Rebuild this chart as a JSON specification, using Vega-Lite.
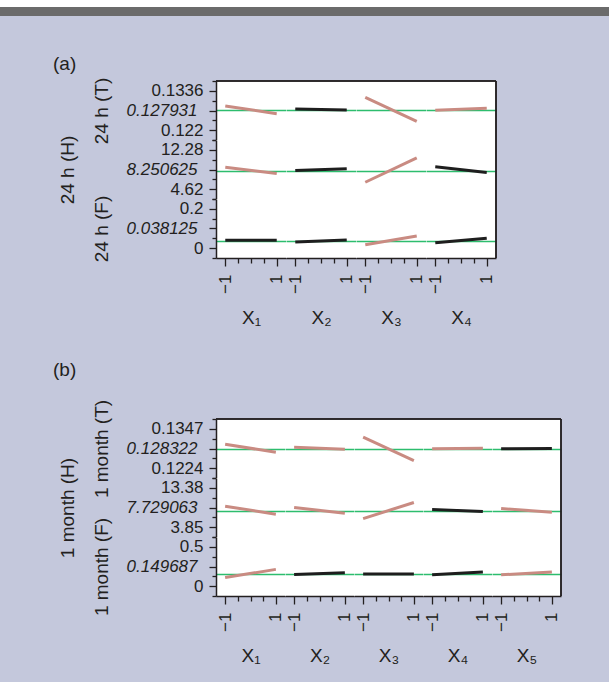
{
  "$schema": "https://vega.github.io/schema/vega-lite/v6.json",
  "background": "#c4c8dc",
  "padding": {"left": 0, "top": 0, "right": 0, "bottom": 16},
  "spacing": 33,
  "resolve": {"scale": {"x": "independent", "y": "independent"}},
  "datasets": {
    "a": [
      {"r":"T","f":"X₁","x":-1,"v":0.12911,"s":"y"},{"r":"T","f":"X₁","x":1,"v":0.12687,"s":"y"},
      {"r":"T","f":"X₂","x":-1,"v":0.12823,"s":"n"},{"r":"T","f":"X₂","x":1,"v":0.12793,"s":"n"},
      {"r":"T","f":"X₃","x":-1,"v":0.13168,"s":"y"},{"r":"T","f":"X₃","x":1,"v":0.1246,"s":"y"},
      {"r":"T","f":"X₄","x":-1,"v":0.12784,"s":"y"},{"r":"T","f":"X₄","x":1,"v":0.12843,"s":"y"},
      {"r":"H","f":"X₁","x":-1,"v":8.89,"s":"y"},{"r":"H","f":"X₁","x":1,"v":7.67,"s":"y"},
      {"r":"H","f":"X₂","x":-1,"v":8.25,"s":"n"},{"r":"H","f":"X₂","x":1,"v":8.58,"s":"n"},
      {"r":"H","f":"X₃","x":-1,"v":5.97,"s":"y"},{"r":"H","f":"X₃","x":1,"v":10.72,"s":"y"},
      {"r":"H","f":"X₄","x":-1,"v":8.97,"s":"n"},{"r":"H","f":"X₄","x":1,"v":7.86,"s":"n"},
      {"r":"F","f":"X₁","x":-1,"v":0.04,"s":"n"},{"r":"F","f":"X₁","x":1,"v":0.04,"s":"n"},
      {"r":"F","f":"X₂","x":-1,"v":0.0315,"s":"n"},{"r":"F","f":"X₂","x":1,"v":0.0417,"s":"n"},
      {"r":"F","f":"X₃","x":-1,"v":0.0178,"s":"y"},{"r":"F","f":"X₃","x":1,"v":0.062,"s":"y"},
      {"r":"F","f":"X₄","x":-1,"v":0.028,"s":"n"},{"r":"F","f":"X₄","x":1,"v":0.0503,"s":"n"}
    ],
    "b": [
      {"r":"T","f":"X₁","x":-1,"v":0.12986,"s":"y"},{"r":"T","f":"X₁","x":1,"v":0.12738,"s":"y"},
      {"r":"T","f":"X₂","x":-1,"v":0.12895,"s":"y"},{"r":"T","f":"X₂","x":1,"v":0.12832,"s":"y"},
      {"r":"T","f":"X₃","x":-1,"v":0.13209,"s":"y"},{"r":"T","f":"X₃","x":1,"v":0.12478,"s":"y"},
      {"r":"T","f":"X₄","x":-1,"v":0.12845,"s":"y"},{"r":"T","f":"X₄","x":1,"v":0.12864,"s":"y"},
      {"r":"T","f":"X₅","x":-1,"v":0.12845,"s":"n"},{"r":"T","f":"X₅","x":1,"v":0.12854,"s":"n"},
      {"r":"H","f":"X₁","x":-1,"v":8.92,"s":"y"},{"r":"H","f":"X₁","x":1,"v":7.0,"s":"y"},
      {"r":"H","f":"X₂","x":-1,"v":8.6,"s":"y"},{"r":"H","f":"X₂","x":1,"v":7.24,"s":"y"},
      {"r":"H","f":"X₃","x":-1,"v":5.93,"s":"y"},{"r":"H","f":"X₃","x":1,"v":9.82,"s":"y"},
      {"r":"H","f":"X₄","x":-1,"v":8.12,"s":"n"},{"r":"H","f":"X₄","x":1,"v":7.63,"s":"n"},
      {"r":"H","f":"X₅","x":-1,"v":8.36,"s":"y"},{"r":"H","f":"X₅","x":1,"v":7.49,"s":"y"},
      {"r":"F","f":"X₁","x":-1,"v":0.1089,"s":"y"},{"r":"F","f":"X₁","x":1,"v":0.2135,"s":"y"},
      {"r":"F","f":"X₂","x":-1,"v":0.1497,"s":"n"},{"r":"F","f":"X₂","x":1,"v":0.1701,"s":"n"},
      {"r":"F","f":"X₃","x":-1,"v":0.1535,"s":"n"},{"r":"F","f":"X₃","x":1,"v":0.1535,"s":"n"},
      {"r":"F","f":"X₄","x":-1,"v":0.1446,"s":"n"},{"r":"F","f":"X₄","x":1,"v":0.179,"s":"n"},
      {"r":"F","f":"X₅","x":-1,"v":0.1446,"s":"y"},{"r":"F","f":"X₅","x":1,"v":0.179,"s":"y"}
    ]
  },
  "vconcat": [
    {
      "width": 609, "height": 22,
      "view": {"fill": null},
      "data": {"values": [{"k": 1}]},
      "layer": [
        {"mark": {"type": "rect", "color": "#ffffff"}, "encoding": {"y": {"datum": 0, "type": "quantitative", "scale": {"domain": [0, 22], "reverse": true}, "axis": null}, "y2": {"datum": 7}}},
        {"mark": {"type": "rect", "color": "#6b6b6b"}, "encoding": {"y": {"datum": 7, "type": "quantitative"}, "y2": {"datum": 16}}}
      ]
    },
    {
      "title": {"text": "(a)", "anchor": "start", "dx": 53, "offset": 3},
      "spacing": 0,
      "resolve": {"scale": {"x": "independent", "y": "independent"}},
      "hconcat": [
        {"width": 58, "height": 10, "view": {"fill": null}, "data": {"values": [{"k": 1}]}, "mark": {"type": "point", "opacity": 0}},
        {
          "data": {"name": "a"},
          "columns": 4, "spacing": 0, "bounds": "flush",
          "resolve": {"scale": {"x": "independent", "y": "independent"}},
          "concat": [
            {"transform": [{"filter": "datum.r=='T' && datum.f=='X₁'"}], "width": 70, "height": 59, "layer": [
              {"mark": {"type": "line", "strokeWidth": 3}, "encoding": {
                "x": {"field": "x", "type": "quantitative", "scale": {"domain": [-1.36, 1.36], "nice": false}, "axis": null},
                "y": {"field": "v", "type": "quantitative", "scale": {"domain": [0.1191, 0.1365], "nice": false, "zero": false},
                  "axis": {"values": [0.1191, 0.122, 0.1249, 0.1278, 0.1307, 0.1336, 0.1365, 0.127931],
                    "labelExpr": "abs(datum.value-0.122)<1e-7 ? '0.122' : abs(datum.value-0.1278)<1e-7 ? '0.127931' : abs(datum.value-0.1336)<1e-7 ? '0.1336' : ''",
                    "labelFontSize": {"condition": {"test": "abs(datum.value-0.122)<1e-7 || abs(datum.value-0.1278)<1e-7 || abs(datum.value-0.1336)<1e-7", "value": 17}, "value": 0},
                    "tickSize": {"condition": {"test": "abs(datum.value-0.122)<1e-7 || abs(datum.value-0.1278)<1e-7 || abs(datum.value-0.1336)<1e-7", "value": 7}, "value": 4},
                    "tickOpacity": {"condition": {"test": "abs(datum.value-0.127931)<1e-7", "value": 0}, "value": 1},
                    "gridOpacity": {"condition": {"test": "abs(datum.value-0.127931)<1e-7", "value": 1}, "value": 0},
                    "labelFontStyle": {"condition": {"test": "abs(datum.value-0.1278)<1e-7", "value": "italic"}, "value": "normal"},
                    "labelPadding": {"condition": {"test": "abs(datum.value-0.1278)<1e-7", "value": 12}, "value": 6},
                    "grid": true, "title": "24 h (T)", "titlePadding": 15}},
                "color": {"field": "s", "type": "nominal", "scale": {"domain": ["y", "n"], "range": ["#c98b82", "#1e1e1e"]}, "legend": null}}},
              {"mark": {"type": "rule", "color": "#231f20", "strokeWidth": 1.5}, "encoding": {"y": {"value": 0}}}
            ]},
            {"transform": [{"filter": "datum.r=='T' && datum.f=='X₂'"}], "width": 70, "height": 59, "layer": [
              {"mark": {"type": "line", "strokeWidth": 3}, "encoding": {
                "x": {"field": "x", "type": "quantitative", "scale": {"domain": [-1.36, 1.36], "nice": false}, "axis": null},
                "y": {"field": "v", "type": "quantitative", "scale": {"domain": [0.1191, 0.1365], "nice": false, "zero": false},
                  "axis": {"values": [0.127931], "grid": true, "domain": false, "ticks": false, "labels": false, "title": null}},
                "color": {"field": "s", "type": "nominal", "scale": {"domain": ["y", "n"], "range": ["#c98b82", "#1e1e1e"]}, "legend": null}}},
              {"mark": {"type": "rule", "color": "#231f20", "strokeWidth": 1.5}, "encoding": {"y": {"value": 0}}}
            ]},
            {"transform": [{"filter": "datum.r=='T' && datum.f=='X₃'"}], "width": 70, "height": 59, "layer": [
              {"mark": {"type": "line", "strokeWidth": 3}, "encoding": {
                "x": {"field": "x", "type": "quantitative", "scale": {"domain": [-1.36, 1.36], "nice": false}, "axis": null},
                "y": {"field": "v", "type": "quantitative", "scale": {"domain": [0.1191, 0.1365], "nice": false, "zero": false},
                  "axis": {"values": [0.127931], "grid": true, "domain": false, "ticks": false, "labels": false, "title": null}},
                "color": {"field": "s", "type": "nominal", "scale": {"domain": ["y", "n"], "range": ["#c98b82", "#1e1e1e"]}, "legend": null}}},
              {"mark": {"type": "rule", "color": "#231f20", "strokeWidth": 1.5}, "encoding": {"y": {"value": 0}}}
            ]},
            {"transform": [{"filter": "datum.r=='T' && datum.f=='X₄'"}], "width": 70, "height": 59, "layer": [
              {"mark": {"type": "line", "strokeWidth": 3}, "encoding": {
                "x": {"field": "x", "type": "quantitative", "scale": {"domain": [-1.36, 1.36], "nice": false}, "axis": null},
                "y": {"field": "v", "type": "quantitative", "scale": {"domain": [0.1191, 0.1365], "nice": false, "zero": false},
                  "axis": {"values": [0.127931], "grid": true, "domain": false, "ticks": false, "labels": false, "title": null}},
                "color": {"field": "s", "type": "nominal", "scale": {"domain": ["y", "n"], "range": ["#c98b82", "#1e1e1e"]}, "legend": null}}},
              {"mark": {"type": "rule", "color": "#231f20", "strokeWidth": 1.5}, "encoding": {"y": {"value": 0}}},
              {"mark": {"type": "rule", "color": "#231f20", "strokeWidth": 1.5}, "encoding": {"x": {"value": "width"}}}
            ]},
            {"transform": [{"filter": "datum.r=='H' && datum.f=='X₁'"}], "width": 70, "height": 59, "layer": [
              {"mark": {"type": "line", "strokeWidth": 3}, "encoding": {
                "x": {"field": "x", "type": "quantitative", "scale": {"domain": [-1.36, 1.36], "nice": false}, "axis": null},
                "y": {"field": "v", "type": "quantitative", "scale": {"domain": [2.705, 14.195], "nice": false, "zero": false},
                  "axis": {"values": [2.705, 4.62, 6.535, 8.45, 10.365, 12.28, 14.195, 8.250625],
                    "labelExpr": "abs(datum.value-4.62)<1e-4 ? '4.62' : abs(datum.value-8.45)<1e-4 ? '8.250625' : abs(datum.value-12.28)<1e-4 ? '12.28' : ''",
                    "labelFontSize": {"condition": {"test": "abs(datum.value-4.62)<1e-4 || abs(datum.value-8.45)<1e-4 || abs(datum.value-12.28)<1e-4", "value": 17}, "value": 0},
                    "tickSize": {"condition": {"test": "abs(datum.value-4.62)<1e-4 || abs(datum.value-8.45)<1e-4 || abs(datum.value-12.28)<1e-4", "value": 7}, "value": 4},
                    "tickOpacity": {"condition": {"test": "abs(datum.value-8.250625)<1e-5", "value": 0}, "value": 1},
                    "gridOpacity": {"condition": {"test": "abs(datum.value-8.250625)<1e-5", "value": 1}, "value": 0},
                    "labelFontStyle": {"condition": {"test": "abs(datum.value-8.45)<1e-4", "value": "italic"}, "value": "normal"},
                    "labelPadding": {"condition": {"test": "abs(datum.value-8.45)<1e-4", "value": 12}, "value": 6},
                    "grid": true, "title": "24 h (H)", "titlePadding": 49}},
                "color": {"field": "s", "type": "nominal", "scale": {"domain": ["y", "n"], "range": ["#c98b82", "#1e1e1e"]}, "legend": null}}}
            ]},
            {"transform": [{"filter": "datum.r=='H' && datum.f=='X₂'"}], "width": 70, "height": 59, "layer": [
              {"mark": {"type": "line", "strokeWidth": 3}, "encoding": {
                "x": {"field": "x", "type": "quantitative", "scale": {"domain": [-1.36, 1.36], "nice": false}, "axis": null},
                "y": {"field": "v", "type": "quantitative", "scale": {"domain": [2.705, 14.195], "nice": false, "zero": false},
                  "axis": {"values": [8.250625], "grid": true, "domain": false, "ticks": false, "labels": false, "title": null}},
                "color": {"field": "s", "type": "nominal", "scale": {"domain": ["y", "n"], "range": ["#c98b82", "#1e1e1e"]}, "legend": null}}}
            ]},
            {"transform": [{"filter": "datum.r=='H' && datum.f=='X₃'"}], "width": 70, "height": 59, "layer": [
              {"mark": {"type": "line", "strokeWidth": 3}, "encoding": {
                "x": {"field": "x", "type": "quantitative", "scale": {"domain": [-1.36, 1.36], "nice": false}, "axis": null},
                "y": {"field": "v", "type": "quantitative", "scale": {"domain": [2.705, 14.195], "nice": false, "zero": false},
                  "axis": {"values": [8.250625], "grid": true, "domain": false, "ticks": false, "labels": false, "title": null}},
                "color": {"field": "s", "type": "nominal", "scale": {"domain": ["y", "n"], "range": ["#c98b82", "#1e1e1e"]}, "legend": null}}}
            ]},
            {"transform": [{"filter": "datum.r=='H' && datum.f=='X₄'"}], "width": 70, "height": 59, "layer": [
              {"mark": {"type": "line", "strokeWidth": 3}, "encoding": {
                "x": {"field": "x", "type": "quantitative", "scale": {"domain": [-1.36, 1.36], "nice": false}, "axis": null},
                "y": {"field": "v", "type": "quantitative", "scale": {"domain": [2.705, 14.195], "nice": false, "zero": false},
                  "axis": {"values": [8.250625], "grid": true, "domain": false, "ticks": false, "labels": false, "title": null}},
                "color": {"field": "s", "type": "nominal", "scale": {"domain": ["y", "n"], "range": ["#c98b82", "#1e1e1e"]}, "legend": null}}},
              {"mark": {"type": "rule", "color": "#231f20", "strokeWidth": 1.5}, "encoding": {"x": {"value": "width"}}}
            ]},
            {"transform": [{"filter": "datum.r=='F' && datum.f=='X₁'"}], "width": 70, "height": 59, "layer": [
              {"mark": {"type": "line", "strokeWidth": 3}, "encoding": {
                "x": {"field": "x", "type": "quantitative", "scale": {"domain": [-1.36, 1.36], "nice": false},
                  "axis": {"values": [-1, -0.5, 0, 0.5, 1], "labelExpr": "datum.value==-1 ? '−1' : datum.value==1 ? '1' : ''", "labelAngle": 270, "grid": false,
                    "tickSize": {"condition": {"test": "abs(datum.value)==1", "value": 8}, "value": 5}, "labelPadding": 8, "title": "X₁", "titlePadding": 15}},
                "y": {"field": "v", "type": "quantitative", "scale": {"domain": [-0.05, 0.25], "nice": false, "zero": false},
                  "axis": {"values": [-0.05, 0, 0.05, 0.1, 0.15, 0.2, 0.25, 0.038125],
                    "labelExpr": "abs(datum.value)<1e-7 ? '0' : abs(datum.value-0.1)<1e-7 ? '0.038125' : abs(datum.value-0.2)<1e-7 ? '0.2' : ''",
                    "labelFontSize": {"condition": {"test": "abs(datum.value)<1e-7 || abs(datum.value-0.1)<1e-7 || abs(datum.value-0.2)<1e-7", "value": 17}, "value": 0},
                    "tickSize": {"condition": {"test": "abs(datum.value)<1e-7 || abs(datum.value-0.1)<1e-7 || abs(datum.value-0.2)<1e-7", "value": 7}, "value": 4},
                    "tickOpacity": {"condition": {"test": "abs(datum.value-0.038125)<1e-7", "value": 0}, "value": 1},
                    "gridOpacity": {"condition": {"test": "abs(datum.value-0.038125)<1e-7", "value": 1}, "value": 0},
                    "labelFontStyle": {"condition": {"test": "abs(datum.value-0.1)<1e-7", "value": "italic"}, "value": "normal"},
                    "labelPadding": {"condition": {"test": "abs(datum.value-0.1)<1e-7", "value": 12}, "value": 6},
                    "grid": true, "title": "24 h (F)", "titlePadding": 15}},
                "color": {"field": "s", "type": "nominal", "scale": {"domain": ["y", "n"], "range": ["#c98b82", "#1e1e1e"]}, "legend": null}}}
            ]},
            {"transform": [{"filter": "datum.r=='F' && datum.f=='X₂'"}], "width": 70, "height": 59, "layer": [
              {"mark": {"type": "line", "strokeWidth": 3}, "encoding": {
                "x": {"field": "x", "type": "quantitative", "scale": {"domain": [-1.36, 1.36], "nice": false},
                  "axis": {"values": [-1, -0.5, 0, 0.5, 1], "labelExpr": "datum.value==-1 ? '−1' : datum.value==1 ? '1' : ''", "labelAngle": 270, "grid": false,
                    "tickSize": {"condition": {"test": "abs(datum.value)==1", "value": 8}, "value": 5}, "labelPadding": 8, "title": "X₂", "titlePadding": 15}},
                "y": {"field": "v", "type": "quantitative", "scale": {"domain": [-0.05, 0.25], "nice": false, "zero": false},
                  "axis": {"values": [0.038125], "grid": true, "domain": false, "ticks": false, "labels": false, "title": null}},
                "color": {"field": "s", "type": "nominal", "scale": {"domain": ["y", "n"], "range": ["#c98b82", "#1e1e1e"]}, "legend": null}}}
            ]},
            {"transform": [{"filter": "datum.r=='F' && datum.f=='X₃'"}], "width": 70, "height": 59, "layer": [
              {"mark": {"type": "line", "strokeWidth": 3}, "encoding": {
                "x": {"field": "x", "type": "quantitative", "scale": {"domain": [-1.36, 1.36], "nice": false},
                  "axis": {"values": [-1, -0.5, 0, 0.5, 1], "labelExpr": "datum.value==-1 ? '−1' : datum.value==1 ? '1' : ''", "labelAngle": 270, "grid": false,
                    "tickSize": {"condition": {"test": "abs(datum.value)==1", "value": 8}, "value": 5}, "labelPadding": 8, "title": "X₃", "titlePadding": 15}},
                "y": {"field": "v", "type": "quantitative", "scale": {"domain": [-0.05, 0.25], "nice": false, "zero": false},
                  "axis": {"values": [0.038125], "grid": true, "domain": false, "ticks": false, "labels": false, "title": null}},
                "color": {"field": "s", "type": "nominal", "scale": {"domain": ["y", "n"], "range": ["#c98b82", "#1e1e1e"]}, "legend": null}}}
            ]},
            {"transform": [{"filter": "datum.r=='F' && datum.f=='X₄'"}], "width": 70, "height": 59, "layer": [
              {"mark": {"type": "line", "strokeWidth": 3}, "encoding": {
                "x": {"field": "x", "type": "quantitative", "scale": {"domain": [-1.36, 1.36], "nice": false},
                  "axis": {"values": [-1, -0.5, 0, 0.5, 1], "labelExpr": "datum.value==-1 ? '−1' : datum.value==1 ? '1' : ''", "labelAngle": 270, "grid": false,
                    "tickSize": {"condition": {"test": "abs(datum.value)==1", "value": 8}, "value": 5}, "labelPadding": 8, "title": "X₄", "titlePadding": 15}},
                "y": {"field": "v", "type": "quantitative", "scale": {"domain": [-0.05, 0.25], "nice": false, "zero": false},
                  "axis": {"values": [0.038125], "grid": true, "domain": false, "ticks": false, "labels": false, "title": null}},
                "color": {"field": "s", "type": "nominal", "scale": {"domain": ["y", "n"], "range": ["#c98b82", "#1e1e1e"]}, "legend": null}}},
              {"mark": {"type": "rule", "color": "#231f20", "strokeWidth": 1.5}, "encoding": {"x": {"value": "width"}}}
            ]}
          ]
        }
      ]
    },
    {
      "title": {"text": "(b)", "anchor": "start", "dx": 53, "offset": 19},
      "spacing": 0,
      "resolve": {"scale": {"x": "independent", "y": "independent"}},
      "hconcat": [
        {"width": 58, "height": 10, "view": {"fill": null}, "data": {"values": [{"k": 1}]}, "mark": {"type": "point", "opacity": 0}},
        {
          "data": {"name": "b"},
          "columns": 5, "spacing": 0, "bounds": "flush",
          "resolve": {"scale": {"x": "independent", "y": "independent"}},
          "concat": [
            {"transform": [{"filter": "datum.r=='T' && datum.f=='X₁'"}], "width": 69, "height": 59, "layer": [
              {"mark": {"type": "line", "strokeWidth": 3}, "encoding": {
                "x": {"field": "x", "type": "quantitative", "scale": {"domain": [-1.36, 1.36], "nice": false}, "axis": null},
                "y": {"field": "v", "type": "quantitative", "scale": {"domain": [0.119325, 0.137775], "nice": false, "zero": false},
                  "axis": {"values": [0.119325, 0.1224, 0.125475, 0.12855, 0.131625, 0.1347, 0.137775, 0.128322],
                    "labelExpr": "abs(datum.value-0.1224)<1e-7 ? '0.1224' : abs(datum.value-0.12855)<1e-7 ? '0.128322' : abs(datum.value-0.1347)<1e-7 ? '0.1347' : ''",
                    "labelFontSize": {"condition": {"test": "abs(datum.value-0.1224)<1e-7 || abs(datum.value-0.12855)<1e-7 || abs(datum.value-0.1347)<1e-7", "value": 17}, "value": 0},
                    "tickSize": {"condition": {"test": "abs(datum.value-0.1224)<1e-7 || abs(datum.value-0.12855)<1e-7 || abs(datum.value-0.1347)<1e-7", "value": 7}, "value": 4},
                    "tickOpacity": {"condition": {"test": "abs(datum.value-0.128322)<1e-7", "value": 0}, "value": 1},
                    "gridOpacity": {"condition": {"test": "abs(datum.value-0.128322)<1e-7", "value": 1}, "value": 0},
                    "labelFontStyle": {"condition": {"test": "abs(datum.value-0.12855)<1e-7", "value": "italic"}, "value": "normal"},
                    "labelPadding": {"condition": {"test": "abs(datum.value-0.12855)<1e-7", "value": 12}, "value": 6},
                    "grid": true, "title": "1 month (T)", "titlePadding": 15}},
                "color": {"field": "s", "type": "nominal", "scale": {"domain": ["y", "n"], "range": ["#c98b82", "#1e1e1e"]}, "legend": null}}},
              {"mark": {"type": "rule", "color": "#231f20", "strokeWidth": 1.5}, "encoding": {"y": {"value": 0}}}
            ]},
            {"transform": [{"filter": "datum.r=='T' && datum.f=='X₂'"}], "width": 69, "height": 59, "layer": [
              {"mark": {"type": "line", "strokeWidth": 3}, "encoding": {
                "x": {"field": "x", "type": "quantitative", "scale": {"domain": [-1.36, 1.36], "nice": false}, "axis": null},
                "y": {"field": "v", "type": "quantitative", "scale": {"domain": [0.119325, 0.137775], "nice": false, "zero": false},
                  "axis": {"values": [0.128322], "grid": true, "domain": false, "ticks": false, "labels": false, "title": null}},
                "color": {"field": "s", "type": "nominal", "scale": {"domain": ["y", "n"], "range": ["#c98b82", "#1e1e1e"]}, "legend": null}}},
              {"mark": {"type": "rule", "color": "#231f20", "strokeWidth": 1.5}, "encoding": {"y": {"value": 0}}}
            ]},
            {"transform": [{"filter": "datum.r=='T' && datum.f=='X₃'"}], "width": 69, "height": 59, "layer": [
              {"mark": {"type": "line", "strokeWidth": 3}, "encoding": {
                "x": {"field": "x", "type": "quantitative", "scale": {"domain": [-1.36, 1.36], "nice": false}, "axis": null},
                "y": {"field": "v", "type": "quantitative", "scale": {"domain": [0.119325, 0.137775], "nice": false, "zero": false},
                  "axis": {"values": [0.128322], "grid": true, "domain": false, "ticks": false, "labels": false, "title": null}},
                "color": {"field": "s", "type": "nominal", "scale": {"domain": ["y", "n"], "range": ["#c98b82", "#1e1e1e"]}, "legend": null}}},
              {"mark": {"type": "rule", "color": "#231f20", "strokeWidth": 1.5}, "encoding": {"y": {"value": 0}}}
            ]},
            {"transform": [{"filter": "datum.r=='T' && datum.f=='X₄'"}], "width": 69, "height": 59, "layer": [
              {"mark": {"type": "line", "strokeWidth": 3}, "encoding": {
                "x": {"field": "x", "type": "quantitative", "scale": {"domain": [-1.36, 1.36], "nice": false}, "axis": null},
                "y": {"field": "v", "type": "quantitative", "scale": {"domain": [0.119325, 0.137775], "nice": false, "zero": false},
                  "axis": {"values": [0.128322], "grid": true, "domain": false, "ticks": false, "labels": false, "title": null}},
                "color": {"field": "s", "type": "nominal", "scale": {"domain": ["y", "n"], "range": ["#c98b82", "#1e1e1e"]}, "legend": null}}},
              {"mark": {"type": "rule", "color": "#231f20", "strokeWidth": 1.5}, "encoding": {"y": {"value": 0}}}
            ]},
            {"transform": [{"filter": "datum.r=='T' && datum.f=='X₅'"}], "width": 69, "height": 59, "layer": [
              {"mark": {"type": "line", "strokeWidth": 3}, "encoding": {
                "x": {"field": "x", "type": "quantitative", "scale": {"domain": [-1.36, 1.36], "nice": false}, "axis": null},
                "y": {"field": "v", "type": "quantitative", "scale": {"domain": [0.119325, 0.137775], "nice": false, "zero": false},
                  "axis": {"values": [0.128322], "grid": true, "domain": false, "ticks": false, "labels": false, "title": null}},
                "color": {"field": "s", "type": "nominal", "scale": {"domain": ["y", "n"], "range": ["#c98b82", "#1e1e1e"]}, "legend": null}}},
              {"mark": {"type": "rule", "color": "#231f20", "strokeWidth": 1.5}, "encoding": {"y": {"value": 0}}},
              {"mark": {"type": "rule", "color": "#231f20", "strokeWidth": 1.5}, "encoding": {"x": {"value": "width"}}}
            ]},
            {"transform": [{"filter": "datum.r=='H' && datum.f=='X₁'"}], "width": 69, "height": 59, "layer": [
              {"mark": {"type": "line", "strokeWidth": 3}, "encoding": {
                "x": {"field": "x", "type": "quantitative", "scale": {"domain": [-1.36, 1.36], "nice": false}, "axis": null},
                "y": {"field": "v", "type": "quantitative", "scale": {"domain": [1.4675, 15.7625], "nice": false, "zero": false},
                  "axis": {"values": [1.4675, 3.85, 6.2325, 8.615, 10.9975, 13.38, 15.7625, 7.729063],
                    "labelExpr": "abs(datum.value-3.85)<1e-4 ? '3.85' : abs(datum.value-8.615)<1e-4 ? '7.729063' : abs(datum.value-13.38)<1e-4 ? '13.38' : ''",
                    "labelFontSize": {"condition": {"test": "abs(datum.value-3.85)<1e-4 || abs(datum.value-8.615)<1e-4 || abs(datum.value-13.38)<1e-4", "value": 17}, "value": 0},
                    "tickSize": {"condition": {"test": "abs(datum.value-3.85)<1e-4 || abs(datum.value-8.615)<1e-4 || abs(datum.value-13.38)<1e-4", "value": 7}, "value": 4},
                    "tickOpacity": {"condition": {"test": "abs(datum.value-7.729063)<1e-5", "value": 0}, "value": 1},
                    "gridOpacity": {"condition": {"test": "abs(datum.value-7.729063)<1e-5", "value": 1}, "value": 0},
                    "labelFontStyle": {"condition": {"test": "abs(datum.value-8.615)<1e-4", "value": "italic"}, "value": "normal"},
                    "labelPadding": {"condition": {"test": "abs(datum.value-8.615)<1e-4", "value": 12}, "value": 6},
                    "grid": true, "title": "1 month (H)", "titlePadding": 49}},
                "color": {"field": "s", "type": "nominal", "scale": {"domain": ["y", "n"], "range": ["#c98b82", "#1e1e1e"]}, "legend": null}}}
            ]},
            {"transform": [{"filter": "datum.r=='H' && datum.f=='X₂'"}], "width": 69, "height": 59, "layer": [
              {"mark": {"type": "line", "strokeWidth": 3}, "encoding": {
                "x": {"field": "x", "type": "quantitative", "scale": {"domain": [-1.36, 1.36], "nice": false}, "axis": null},
                "y": {"field": "v", "type": "quantitative", "scale": {"domain": [1.4675, 15.7625], "nice": false, "zero": false},
                  "axis": {"values": [7.729063], "grid": true, "domain": false, "ticks": false, "labels": false, "title": null}},
                "color": {"field": "s", "type": "nominal", "scale": {"domain": ["y", "n"], "range": ["#c98b82", "#1e1e1e"]}, "legend": null}}}
            ]},
            {"transform": [{"filter": "datum.r=='H' && datum.f=='X₃'"}], "width": 69, "height": 59, "layer": [
              {"mark": {"type": "line", "strokeWidth": 3}, "encoding": {
                "x": {"field": "x", "type": "quantitative", "scale": {"domain": [-1.36, 1.36], "nice": false}, "axis": null},
                "y": {"field": "v", "type": "quantitative", "scale": {"domain": [1.4675, 15.7625], "nice": false, "zero": false},
                  "axis": {"values": [7.729063], "grid": true, "domain": false, "ticks": false, "labels": false, "title": null}},
                "color": {"field": "s", "type": "nominal", "scale": {"domain": ["y", "n"], "range": ["#c98b82", "#1e1e1e"]}, "legend": null}}}
            ]},
            {"transform": [{"filter": "datum.r=='H' && datum.f=='X₄'"}], "width": 69, "height": 59, "layer": [
              {"mark": {"type": "line", "strokeWidth": 3}, "encoding": {
                "x": {"field": "x", "type": "quantitative", "scale": {"domain": [-1.36, 1.36], "nice": false}, "axis": null},
                "y": {"field": "v", "type": "quantitative", "scale": {"domain": [1.4675, 15.7625], "nice": false, "zero": false},
                  "axis": {"values": [7.729063], "grid": true, "domain": false, "ticks": false, "labels": false, "title": null}},
                "color": {"field": "s", "type": "nominal", "scale": {"domain": ["y", "n"], "range": ["#c98b82", "#1e1e1e"]}, "legend": null}}}
            ]},
            {"transform": [{"filter": "datum.r=='H' && datum.f=='X₅'"}], "width": 69, "height": 59, "layer": [
              {"mark": {"type": "line", "strokeWidth": 3}, "encoding": {
                "x": {"field": "x", "type": "quantitative", "scale": {"domain": [-1.36, 1.36], "nice": false}, "axis": null},
                "y": {"field": "v", "type": "quantitative", "scale": {"domain": [1.4675, 15.7625], "nice": false, "zero": false},
                  "axis": {"values": [7.729063], "grid": true, "domain": false, "ticks": false, "labels": false, "title": null}},
                "color": {"field": "s", "type": "nominal", "scale": {"domain": ["y", "n"], "range": ["#c98b82", "#1e1e1e"]}, "legend": null}}},
              {"mark": {"type": "rule", "color": "#231f20", "strokeWidth": 1.5}, "encoding": {"x": {"value": "width"}}}
            ]},
            {"transform": [{"filter": "datum.r=='F' && datum.f=='X₁'"}], "width": 69, "height": 59, "layer": [
              {"mark": {"type": "line", "strokeWidth": 3}, "encoding": {
                "x": {"field": "x", "type": "quantitative", "scale": {"domain": [-1.36, 1.36], "nice": false},
                  "axis": {"values": [-1, -0.5, 0, 0.5, 1], "labelExpr": "datum.value==-1 ? '−1' : datum.value==1 ? '1' : ''", "labelAngle": 270, "grid": false,
                    "tickSize": {"condition": {"test": "abs(datum.value)==1", "value": 8}, "value": 5}, "labelPadding": 8, "title": "X₁", "titlePadding": 15}},
                "y": {"field": "v", "type": "quantitative", "scale": {"domain": [-0.125, 0.625], "nice": false, "zero": false},
                  "axis": {"values": [-0.125, 0, 0.125, 0.25, 0.375, 0.5, 0.625, 0.149687],
                    "labelExpr": "abs(datum.value)<1e-7 ? '0' : abs(datum.value-0.25)<1e-7 ? '0.149687' : abs(datum.value-0.5)<1e-7 ? '0.5' : ''",
                    "labelFontSize": {"condition": {"test": "abs(datum.value)<1e-7 || abs(datum.value-0.25)<1e-7 || abs(datum.value-0.5)<1e-7", "value": 17}, "value": 0},
                    "tickSize": {"condition": {"test": "abs(datum.value)<1e-7 || abs(datum.value-0.25)<1e-7 || abs(datum.value-0.5)<1e-7", "value": 7}, "value": 4},
                    "tickOpacity": {"condition": {"test": "abs(datum.value-0.149687)<1e-7", "value": 0}, "value": 1},
                    "gridOpacity": {"condition": {"test": "abs(datum.value-0.149687)<1e-7", "value": 1}, "value": 0},
                    "labelFontStyle": {"condition": {"test": "abs(datum.value-0.25)<1e-7", "value": "italic"}, "value": "normal"},
                    "labelPadding": {"condition": {"test": "abs(datum.value-0.25)<1e-7", "value": 12}, "value": 6},
                    "grid": true, "title": "1 month (F)", "titlePadding": 15}},
                "color": {"field": "s", "type": "nominal", "scale": {"domain": ["y", "n"], "range": ["#c98b82", "#1e1e1e"]}, "legend": null}}}
            ]},
            {"transform": [{"filter": "datum.r=='F' && datum.f=='X₂'"}], "width": 69, "height": 59, "layer": [
              {"mark": {"type": "line", "strokeWidth": 3}, "encoding": {
                "x": {"field": "x", "type": "quantitative", "scale": {"domain": [-1.36, 1.36], "nice": false},
                  "axis": {"values": [-1, -0.5, 0, 0.5, 1], "labelExpr": "datum.value==-1 ? '−1' : datum.value==1 ? '1' : ''", "labelAngle": 270, "grid": false,
                    "tickSize": {"condition": {"test": "abs(datum.value)==1", "value": 8}, "value": 5}, "labelPadding": 8, "title": "X₂", "titlePadding": 15}},
                "y": {"field": "v", "type": "quantitative", "scale": {"domain": [-0.125, 0.625], "nice": false, "zero": false},
                  "axis": {"values": [0.149687], "grid": true, "domain": false, "ticks": false, "labels": false, "title": null}},
                "color": {"field": "s", "type": "nominal", "scale": {"domain": ["y", "n"], "range": ["#c98b82", "#1e1e1e"]}, "legend": null}}}
            ]},
            {"transform": [{"filter": "datum.r=='F' && datum.f=='X₃'"}], "width": 69, "height": 59, "layer": [
              {"mark": {"type": "line", "strokeWidth": 3}, "encoding": {
                "x": {"field": "x", "type": "quantitative", "scale": {"domain": [-1.36, 1.36], "nice": false},
                  "axis": {"values": [-1, -0.5, 0, 0.5, 1], "labelExpr": "datum.value==-1 ? '−1' : datum.value==1 ? '1' : ''", "labelAngle": 270, "grid": false,
                    "tickSize": {"condition": {"test": "abs(datum.value)==1", "value": 8}, "value": 5}, "labelPadding": 8, "title": "X₃", "titlePadding": 15}},
                "y": {"field": "v", "type": "quantitative", "scale": {"domain": [-0.125, 0.625], "nice": false, "zero": false},
                  "axis": {"values": [0.149687], "grid": true, "domain": false, "ticks": false, "labels": false, "title": null}},
                "color": {"field": "s", "type": "nominal", "scale": {"domain": ["y", "n"], "range": ["#c98b82", "#1e1e1e"]}, "legend": null}}}
            ]},
            {"transform": [{"filter": "datum.r=='F' && datum.f=='X₄'"}], "width": 69, "height": 59, "layer": [
              {"mark": {"type": "line", "strokeWidth": 3}, "encoding": {
                "x": {"field": "x", "type": "quantitative", "scale": {"domain": [-1.36, 1.36], "nice": false},
                  "axis": {"values": [-1, -0.5, 0, 0.5, 1], "labelExpr": "datum.value==-1 ? '−1' : datum.value==1 ? '1' : ''", "labelAngle": 270, "grid": false,
                    "tickSize": {"condition": {"test": "abs(datum.value)==1", "value": 8}, "value": 5}, "labelPadding": 8, "title": "X₄", "titlePadding": 15}},
                "y": {"field": "v", "type": "quantitative", "scale": {"domain": [-0.125, 0.625], "nice": false, "zero": false},
                  "axis": {"values": [0.149687], "grid": true, "domain": false, "ticks": false, "labels": false, "title": null}},
                "color": {"field": "s", "type": "nominal", "scale": {"domain": ["y", "n"], "range": ["#c98b82", "#1e1e1e"]}, "legend": null}}}
            ]},
            {"transform": [{"filter": "datum.r=='F' && datum.f=='X₅'"}], "width": 69, "height": 59, "layer": [
              {"mark": {"type": "line", "strokeWidth": 3}, "encoding": {
                "x": {"field": "x", "type": "quantitative", "scale": {"domain": [-1.36, 1.36], "nice": false},
                  "axis": {"values": [-1, -0.5, 0, 0.5, 1], "labelExpr": "datum.value==-1 ? '−1' : datum.value==1 ? '1' : ''", "labelAngle": 270, "grid": false,
                    "tickSize": {"condition": {"test": "abs(datum.value)==1", "value": 8}, "value": 5}, "labelPadding": 8, "title": "X₅", "titlePadding": 15}},
                "y": {"field": "v", "type": "quantitative", "scale": {"domain": [-0.125, 0.625], "nice": false, "zero": false},
                  "axis": {"values": [0.149687], "grid": true, "domain": false, "ticks": false, "labels": false, "title": null}},
                "color": {"field": "s", "type": "nominal", "scale": {"domain": ["y", "n"], "range": ["#c98b82", "#1e1e1e"]}, "legend": null}}},
              {"mark": {"type": "rule", "color": "#231f20", "strokeWidth": 1.5}, "encoding": {"x": {"value": "width"}}}
            ]}
          ]
        }
      ]
    }
  ],
  "config": {
    "view": {"stroke": null, "fill": "#ffffff"},
    "font": "Liberation Sans",
    "title": {"font": "Liberation Sans", "fontSize": 19, "fontWeight": "normal", "color": "#231f20"},
    "axis": {"labelFont": "Liberation Sans", "labelFontSize": 17, "labelColor": "#231f20", "titleFont": "Liberation Sans", "titleFontSize": 19, "titleFontWeight": "normal", "titleColor": "#231f20", "domainColor": "#231f20", "domainWidth": 1.5, "tickColor": "#231f20", "tickWidth": 1.3, "gridColor": "#2dbd6e", "gridWidth": 1.6, "labelOverlap": false, "labelFlush": false, "labelPadding": 6},
    "axisX": {"grid": false}
  }
}
